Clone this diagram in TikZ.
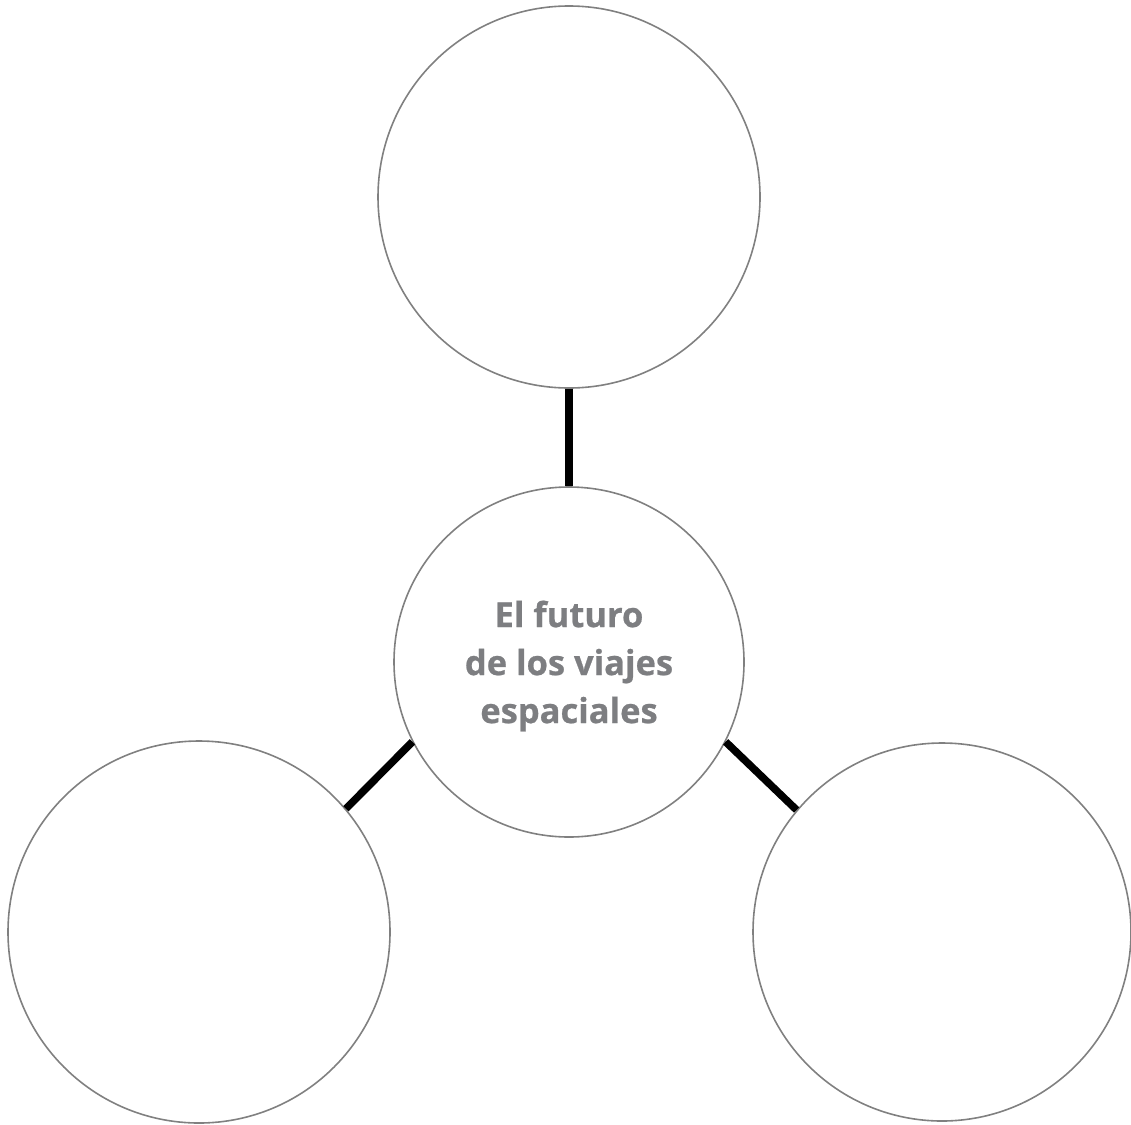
\documentclass[tikz,border=0pt]{standalone}
\usepackage{fontspec}
\newfontfamily\titlefont{Open Sans}[BoldFeatures={FakeBold=0.7}]
\definecolor{ringgray}{HTML}{808080}
\definecolor{textgray}{HTML}{7D7E81}
\begin{document}
\begin{tikzpicture}[x=1pt,y=-1pt,
  ring/.style={circle,draw=ringgray,line width=1.6pt,inner sep=0pt},
  link/.style={line width=7.5pt,black}]
\useasboundingbox (0,0) rectangle (1131,1124);
\node[ring,minimum size=382pt] (top) at (569,197) {};
\node[ring,minimum size=350pt] (mid) at (569,662) {};
\node[align=center,text=textgray,font=\titlefont\bfseries\fontsize{34.5}{48}\selectfont] (title) at (569,666) {El futuro\\de los viajes\\espaciales};
\node[ring,minimum size=382pt] (left) at (199,932) {};
\node[ring,minimum size=378pt] (right) at (942,932) {};
\draw[link] (top.south) -- (mid.north);
\draw[link] (mid.207) -- (left.40);
\draw[link] (mid.333) -- (right.140);
\end{tikzpicture}
\end{document}
